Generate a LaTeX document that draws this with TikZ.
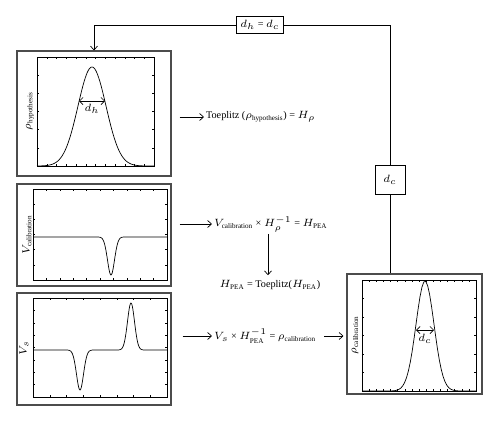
\documentclass[tikz,border=0pt]{standalone}
\usepackage{amsmath}
\usepackage{fontspec}
\setmainfont{Liberation Serif}
\usetikzlibrary{arrows.meta}

\tikzset{
  panel/.style={draw, semithick, gray!60!black, inner sep=0pt},
  formula/.style={inner sep=1pt, font=\fontsize{5.8}{7}\selectfont},
  flow/.style={-{Straight Barb[length=2.2pt,width=4pt]}, thin},
  vlabel/.style={rotate=90, font=\fontsize{5.8}{7}\selectfont},
  tick/.style={very thin}
}

\begin{document}
\begin{tikzpicture}[x=0.02cm,y=-0.02cm]
\useasboundingbox (0,0) rectangle (500,423);

% outer frames of the four plots
\node[panel, minimum width=3.08cm, minimum height=2.5cm] (hyp) at (94,113.5) {};
\node[panel, minimum width=3.08cm, minimum height=2.04cm] (vcal) at (94,235) {};
\node[panel, minimum width=3.08cm, minimum height=2.24cm] (vs) at (94,349) {};
\node[panel, minimum width=2.7cm, minimum height=2.4cm] (rcal) at (414.5,334) {};

% small boxes on the feedback line
\node[draw, thin, formula, inner sep=2.2pt] (equal) at (260,25) {$d_h$ = $d_c$};
\node[draw, thin, formula, minimum width=0.6cm, minimum height=0.58cm] (dc) at (390,180) {$d_c$};

% plot 1: rho hypothesis
\draw[thin] (37,57) rectangle (154,166);
\foreach \i in {1,...,11} {
  \draw[tick] ({37+\i*117/12},166) -- ++(0,-2);
  \draw[tick] ({37+\i*117/12},57) -- ++(0,2);
}
\foreach \i in {1,...,5} {
  \draw[tick] (37,{57+\i*109/6}) -- ++(2,0);
  \draw[tick] (154,{57+\i*109/6}) -- ++(-2,0);
}
\draw[thin] plot[domain=37:154, samples=120, smooth] (\x,{166-99*exp(-(\x-92)^2/392)});
\draw[thin, {Straight Barb[length=2pt,width=4pt]}-{Straight Barb[length=2pt,width=4pt]}] (79,101) -- (105,101);
\node[formula] (dh) at (92,109) {$d_h$};
\node[vlabel] (lhyp) at (30,111) {$\rho_{\text{hypothesis}}$};

% plot 2: V calibration
\draw[thin] (33,189) rectangle (167,280);
\foreach \i in {1,...,9} {
  \draw[tick] ({33+\i*134/10},280) -- ++(0,-2);
  \draw[tick] ({33+\i*134/10},189) -- ++(0,2);
}
\foreach \i in {1,...,5} {
  \draw[tick] (33,{189+\i*91/6}) -- ++(2,0);
  \draw[tick] (167,{189+\i*91/6}) -- ++(-2,0);
}
\draw[thin] plot[domain=33:167, samples=240, smooth] (\x,{237+38*exp(-(\x-111)^2/24.5)});
\node[vlabel] (lvcal) at (27,235) {$V_{\text{calibration}}$};

% plot 3: V s
\draw[thin] (33,298) rectangle (167,397);
\foreach \i in {1,...,7} {
  \draw[tick] ({33+\i*134/8},397) -- ++(0,-2);
  \draw[tick] ({33+\i*134/8},298) -- ++(0,2);
}
\foreach \i in {1,...,7} {
  \draw[tick] (33,{298+\i*99/8}) -- ++(2,0);
  \draw[tick] (167,{298+\i*99/8}) -- ++(-2,0);
}
\draw[thin] plot[domain=33:167, samples=260, smooth] (\x,{350+40*exp(-(\x-80)^2/24.5)-47*exp(-(\x-131)^2/24.5)});
\node[vlabel] (lvs) at (24,348) {$V_s$};

% plot 4: rho calibration
\draw[thin] (362,280) rectangle (476,391);
\foreach \i in {1,...,15} {
  \draw[tick] ({362+\i*114/16},391) -- ++(0,-2);
  \draw[tick] ({362+\i*114/16},280) -- ++(0,2);
}
\foreach \i in {1,...,5} {
  \draw[tick] (362,{280+\i*111/6}) -- ++(2,0);
  \draw[tick] (476,{280+\i*111/6}) -- ++(-2,0);
}
\draw[thin] plot[domain=362:476, samples=60] (\x,{391-110*exp(-(\x-425)^2/162)});
\draw[thin, {Straight Barb[length=2pt,width=4pt]}-{Straight Barb[length=2pt,width=4pt]}] (416,330) -- (434,330);
\node[formula] (dclab) at (425,339) {$d_c$};
\node[vlabel] (lrcal) at (355,335) {$\rho_{\text{calibration}}$};

% formulas
\node[formula, anchor=west] (toep) at (204,117) {Toeplitz ($\rho_{\text{hypothesis}}$) = $H_\rho$};
\node[formula, anchor=west] (hpea) at (212,224) {$V_{\text{calibration}}$ × $H_\rho^{-1}$ = $H_{\text{PEA}}$};
\node[formula] (htoep) at (270,285) {$H_{\text{PEA}}$ = Toeplitz($H_{\text{PEA}}$)};
\node[formula, anchor=west] (rho) at (212,336) {$V_s$ × $H_{\text{PEA}}^{-1}$ = $\rho_{\text{calibration}}$};

% connectors
\draw[flow] ([xshift=0.16cm]hyp.east |- toep.west) -- (toep.west);
\draw[flow] ([xshift=0.16cm]vcal.east |- hpea.west) -- (hpea.west);
\draw[flow] ([xshift=0.22cm]vs.east |- rho.west) -- (rho.west);
\draw[flow] ([xshift=0.12cm]rho.east) -- ([xshift=-0.06cm]rho.east -| rcal.west);
\draw[flow] (hpea.south -| 268,0) -- ([yshift=0.06cm]htoep.north -| 268,0);
\draw[flow] (equal.west) -| (hyp.north);
\draw[thin] (equal.east) -| (dc.north);
\draw[thin] (dc.south) -- (dc.south |- rcal.north);
\end{tikzpicture}
\end{document}
